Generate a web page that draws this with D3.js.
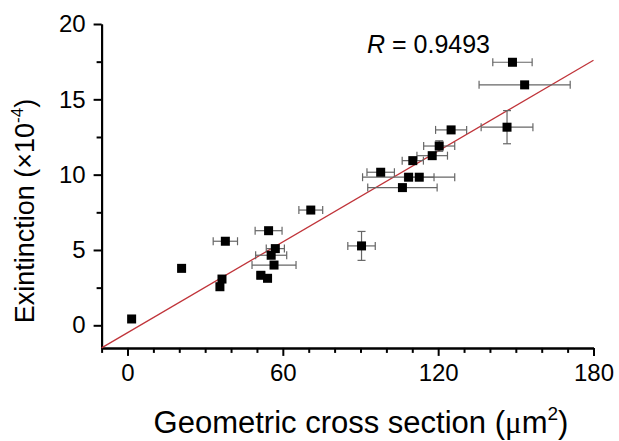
<!DOCTYPE html>
<html>
<head>
<meta charset="utf-8">
<script src="https://cdn.jsdelivr.net/npm/d3@7"></script>
<style>
  html, body { margin: 0; padding: 0; background: #fff; }
  svg { display: block; font-family: "Liberation Sans", Arial, sans-serif; }
</style>
</head>
<body>
<svg id="chart" width="619" height="441"></svg>
<script>
// Geometric cross section (µm²) vs extinction (×10⁻⁴) with x/y uncertainties
const crossSection = [1.6, 20.9, 35.7, 36.5, 37.8, 51.5, 54.1, 54.5, 55.5, 56.6, 57.1, 70.8,
                      90.4, 97.8, 106.2, 108.6, 112.7, 110.2, 117.7, 120.4, 125.0, 146.6, 148.7, 153.4];
const extinction   = [0.42, 3.78, 2.56, 3.07, 5.58, 3.32, 3.12, 6.28, 4.65, 4.00, 5.09, 7.65,
                      5.27, 10.16, 9.14, 9.83, 9.83, 10.93, 11.26, 11.90, 12.97, 13.15, 17.46, 15.96];
const crossErr     = [0.8, 1.2, 0.8, 0.8, 4.7, 1.5, 1.5, 5.2, 6.0, 8.5, 3.5, 4.6,
                      5.3, 5.3, 13.4, 17.8, 5.7, 4.1, 5.9, 6.0, 6.0, 10.0, 7.6, 17.6];
const extErr       = [0, 0, 0, 0, 0, 0, 0, 0, 0, 0, 0, 0,
                      0.96, 0, 0, 0, 0, 0, 0, 0.35, 0, 1.1, 0, 0];

// Linear fit and its correlation coefficient
const fitSlope = 0.1005;
const fitIntercept = -0.495;
const fitR = "0.9493";

const xMajorTicks = [0, 60, 120, 180];
const yMajorTicks = [0, 5, 10, 15, 20];
const xDomain = [-10, 180];
const yDomain = [-1.5, 20];

const svg = d3.select("#chart");
const x = d3.scaleLinear().domain(xDomain).range([101.6, 593.5]);
const y = d3.scaleLinear().domain(yDomain).range([347.9, 24]);

// Axes with outward major + minor ticks
const xMinor = d3.range(-10, 181, 10).filter(v => !xMajorTicks.includes(v));
const yMinor = d3.range(2.5, 20, 5);

const axisStyle = g => {
  g.select(".domain").attr("stroke", "#000").attr("stroke-width", 2);
  g.selectAll(".tick line").attr("stroke", "#000").attr("stroke-width", 2);
};
const labelStyle = g => g.selectAll(".tick text").attr("font-size", 24).attr("fill", "#000")
  .attr("font-family", "Liberation Sans, Arial, sans-serif");

svg.append("g")
  .attr("transform", `translate(0,${y(yDomain[0])})`)
  .call(d3.axisBottom(x).tickValues(xMinor).tickSize(5).tickFormat("").tickSizeOuter(0))
  .call(axisStyle);
svg.append("g")
  .attr("transform", `translate(0,${y(yDomain[0])})`)
  .call(d3.axisBottom(x).tickValues(xMajorTicks).tickSize(8).tickPadding(8).tickSizeOuter(0))
  .call(axisStyle).call(labelStyle);

svg.append("g")
  .attr("transform", `translate(${x(xDomain[0])},0)`)
  .call(d3.axisLeft(y).tickValues(yMinor).tickSize(5).tickFormat("").tickSizeOuter(0))
  .call(axisStyle);
svg.append("g")
  .attr("transform", `translate(${x(xDomain[0])},0)`)
  .call(d3.axisLeft(y).tickValues(yMajorTicks).tickSize(8).tickPadding(8).tickSizeOuter(0))
  .call(axisStyle).call(labelStyle);

// Fit line across the plot area
svg.append("line")
  .attr("x1", x(xDomain[0])).attr("y1", y(fitSlope * xDomain[0] + fitIntercept))
  .attr("x2", x(xDomain[1])).attr("y2", y(fitSlope * xDomain[1] + fitIntercept))
  .attr("stroke", "#c0343a").attr("stroke-width", 1.3);

// Error bars
const pts = crossSection.map((cx, i) => ({
  x: cx, y: extinction[i], ex: crossErr[i], ey: extErr[i]
}));
const cap = 4;
const err = svg.append("g").attr("stroke", "#666").attr("stroke-width", 1.2).attr("fill", "none");
pts.forEach(p => {
  if (p.ex > 0) {
    const x0 = x(p.x - p.ex), x1 = x(p.x + p.ex), py = y(p.y);
    err.append("line").attr("x1", x0).attr("x2", x1).attr("y1", py).attr("y2", py);
    err.append("line").attr("x1", x0).attr("x2", x0).attr("y1", py - cap).attr("y2", py + cap);
    err.append("line").attr("x1", x1).attr("x2", x1).attr("y1", py - cap).attr("y2", py + cap);
  }
  if (p.ey > 0) {
    const y0 = y(p.y - p.ey), y1 = y(p.y + p.ey), px = x(p.x);
    err.append("line").attr("x1", px).attr("x2", px).attr("y1", y0).attr("y2", y1);
    err.append("line").attr("x1", px - cap).attr("x2", px + cap).attr("y1", y0).attr("y2", y0);
    err.append("line").attr("x1", px - cap).attr("x2", px + cap).attr("y1", y1).attr("y2", y1);
  }
});

// Square markers
const s = 9;
svg.append("g").selectAll("rect").data(pts).join("rect")
  .attr("x", d => x(d.x) - s / 2).attr("y", d => y(d.y) - s / 2)
  .attr("width", s).attr("height", s).attr("fill", "#000");

// Correlation annotation
const rText = svg.append("text").attr("x", 367).attr("y", 53).attr("font-size", 25).attr("fill", "#000");
rText.append("tspan").attr("font-style", "italic").text("R");
rText.append("tspan").text(" = " + fitR);

// Axis titles
const xt = svg.append("text").attr("x", 361).attr("y", 433).attr("text-anchor", "middle")
  .attr("font-size", 31).attr("fill", "#000");
xt.append("tspan").text("Geometric cross section (");
xt.append("tspan").attr("font-family", "Liberation Serif, Times New Roman, serif").text("μ");
xt.append("tspan").text("m");
xt.append("tspan").attr("font-size", 19).attr("dy", -13).text("2");
xt.append("tspan").attr("dy", 13).text(")");

const yt = svg.append("text").attr("transform", "translate(34,211) rotate(-90)")
  .attr("text-anchor", "middle").attr("font-size", 27).attr("fill", "#000");
yt.append("tspan").text("Exintinction (×10");
yt.append("tspan").attr("font-size", 17).attr("dy", -11).text("-4");
yt.append("tspan").attr("dy", 11).text(")");
</script>
</body>
</html>
